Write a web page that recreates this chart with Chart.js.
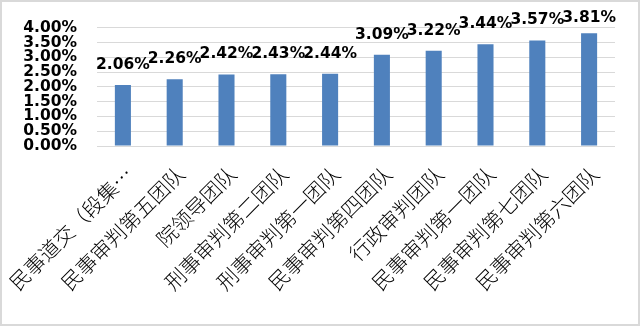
<!DOCTYPE html>
<html>
<head>
<meta charset="utf-8">
<script src="https://cdn.jsdelivr.net/npm/chart.js@4/dist/chart.umd.min.js"></script>
<style>
  html, body { margin: 0; padding: 0; background: #fff; }
  #wrap { width: 640px; height: 326px; position: relative; }
</style>
</head>
<body>
<div id="wrap"><canvas id="myChart" width="640" height="326"></canvas></div>
<script>
// categories (teams) and their rates in percent
const labels = ['民事道交（段集…', '民事审判第五团队', '院领导团队', '刑事审判第二团队', '刑事审判第一团队',
                '民事审判第四团队', '行政审判团队', '民事审判第一团队', '民事审判第七团队', '民事审判第六团队'];
const rateArray = [2.06, 2.26, 2.42, 2.43, 2.44, 3.09, 3.22, 3.44, 3.57, 3.81];
const yTicks = [0, 0.5, 1, 1.5, 2, 2.5, 3, 3.5, 4];

/* white background + light gray frame */
const framePlugin = {
    id: 'frame',
    beforeDraw(chart) {
        const c = chart.ctx;
        c.save();
        c.fillStyle = '#fff';
        c.fillRect(0, 0, chart.width, chart.height);
        c.strokeStyle = '#D9D9D9';
        c.lineWidth = 2;
        c.strokeRect(1, 1, chart.width - 2, chart.height - 2);
        c.restore();
    }
};

/* value labels above each bar */
const valueLabels = {
    id: 'valueLabels',
    afterDatasetsDraw(chart) {
        const c = chart.ctx;
        const meta = chart.getDatasetMeta(0);
        c.save();
        c.font = 'bold 15.5px "DejaVu Sans"';
        c.fillStyle = '#000';
        c.textAlign = 'center';
        c.textBaseline = 'middle';
        meta.data.forEach(function (bar, i) {
            const y = Math.max(bar.y - 20, 18);
            c.fillText(rateArray[i].toFixed(2) + '%', bar.x, y);
        });
        c.restore();
    }
};

var ctx = document.getElementById('myChart').getContext('2d');
var myChart = new Chart(ctx, {
    type: 'bar',
    data: {
        labels: labels,
        datasets: [{
            label: 'rate',
            backgroundColor: '#4F81BD',
            data: rateArray,
            categoryPercentage: 1,
            barPercentage: 0.31
        }]
    },
    options: {
        responsive: false,
        animation: false,
        layout: { padding: { left: 0, right: 25, top: 24, bottom: 0 } },
        plugins: {
            legend: { display: false },
            tooltip: { enabled: false }
        },
        scales: {
            y: {
                min: 0,
                max: 4,
                afterBuildTicks: function (scale) {
                    scale.ticks = yTicks.map(v => ({ value: v }));
                },
                afterFit: function (scale) { scale.width = 97; },
                border: { display: false },
                grid: { color: '#D9D9D9', lineWidth: 1, drawTicks: false },
                ticks: {
                    autoSkip: false,
                    padding: 20,
                    color: '#000',
                    font: { family: '"DejaVu Sans"', size: 15.5, weight: 'bold', lineHeight: 1 },
                    callback: function (value) { return value.toFixed(2) + '%'; }
                }
            },
            x: {
                afterFit: function (scale) {
                    scale.height = 180;
                    // rotated labels may hang past the plot on the left; don't let them shrink it
                    scale.paddingLeft = 0;
                    scale.paddingRight = 0;
                },
                border: { display: false },
                grid: { display: false },
                ticks: {
                    autoSkip: false,
                    maxRotation: 45,
                    minRotation: 45,
                    padding: 9,
                    labelOffset: 6,
                    color: '#000',
                    font: { family: '"Noto Sans CJK SC"', size: 20.5, weight: 300, lineHeight: 1 }
                }
            }
        }
    },
    plugins: [framePlugin, valueLabels]
});
</script>
</body>
</html>
